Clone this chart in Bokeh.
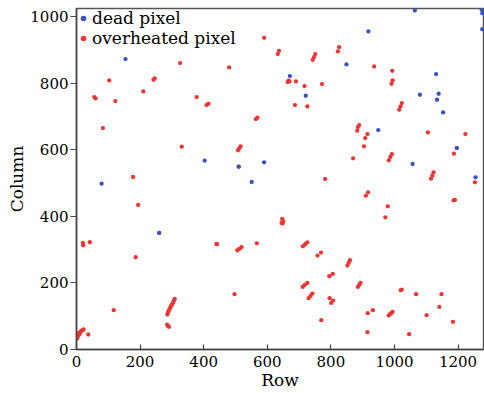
from bokeh.plotting import figure
from bokeh.models import ColumnDataSource, Range1d, Legend, LegendItem, FixedTicker
from bokeh.embed import file_html
from bokeh.resources import INLINE

# dead pixels (row, column)
dead_row = [154, 403, 510, 590, 551, 79, 260, 671, 721, 849, 918, 1064, 1274, 1276, 1276,
            1131, 1080, 1139, 1134, 1153, 949, 1196, 1057, 1255]
dead_col = [872, 567, 549, 562, 503, 498, 350, 821, 762, 856, 955, 1018, 1020, 1010, 962,
            827, 765, 768, 750, 712, 659, 605, 557, 517]

# overheated pixels (row, column)
hot_row = [326, 103, 242, 246, 56, 60, 210, 122, 378, 409, 415, 83, 331, 178,
           590, 637, 633, 751, 747, 743, 826, 822, 480, 664, 667, 670, 690, 717, 772,
           687, 726, 569, 564, 516, 512, 508, 510, 782,
           936, 993, 994, 991, 1023, 1019, 1015, 889, 885, 883, 915, 908, 1105, 1223,
           904, 1196, 1187, 870, 992, 987, 982, 1123, 1119, 1115, 1253,
           194, 260, 20, 21, 42, 186, 117,
           286, 288, 291, 294, 297, 300, 303, 306, 309, 285, 288, 291,
           3, 6, 9, 12, 15, 19, 22, 8, 2, 37,
           645, 647, 650, 648, 442, 440, 519, 512, 506, 567, 726, 719, 712, 758, 769,
           860, 856, 852, 795, 806, 726, 718, 711, 742, 736, 730, 796, 801, 807, 497, 770,
           917, 910, 1186, 1190, 979, 971, 893, 889, 885, 1020, 1023, 1068, 1148, 1141,
           916, 932, 994, 990, 986, 982, 1101, 1184, 915, 1046]
hot_col = [860, 808, 810, 814, 758, 754, 775, 746, 758, 734, 738, 665, 609, 518,
           936, 897, 887, 887, 878, 870, 908, 895, 847, 803, 807, 805, 805, 791, 797,
           734, 730, 696, 692, 610, 604, 598, 549, 512,
           850, 837, 808, 798, 740, 730, 720, 674, 668, 657, 647, 635, 652, 647,
           610, 605, 588, 574, 587, 578, 568, 532, 522, 513, 502,
           434, 350, 320, 313, 322, 277, 118,
           105, 112, 118, 124, 130, 135, 140, 146, 152, 75, 70, 68,
           38, 42, 46, 52, 56, 58, 60, 50, 33, 45,
           380, 392, 385, 378, 316, 317, 307, 302, 298, 319, 322, 316, 310, 282, 291,
           268, 260, 252, 220, 227, 200, 194, 188, 168, 161, 154, 154, 140, 147, 166, 88,
           472, 462, 448, 449, 430, 397, 200, 194, 188, 178, 180, 166, 166, 128,
           109, 118, 113, 109, 106, 102, 103, 83, 52, 46]

x_ticks = [0, 200, 400, 600, 800, 1000, 1200]
y_ticks = [0, 200, 400, 600, 800, 1000]

FONT = "DejaVu Serif"
RED = "#ef3434"
BLUE = "#3a52c4"

p = figure(width=484, height=393, output_backend="svg", toolbar_location=None,
           x_range=Range1d(0, 1280), y_range=Range1d(0, 1024),
           min_border_left=76, min_border_right=1, min_border_top=8, min_border_bottom=44)

p.background_fill_color = "white"
p.border_fill_color = "white"
p.xgrid.grid_line_color = None
p.ygrid.grid_line_color = None
p.outline_line_color = "#555555"
p.outline_line_width = 1.5

hot_src = ColumnDataSource(dict(x=hot_row, y=hot_col))
dead_src = ColumnDataSource(dict(x=dead_row, y=dead_col))
r_hot = p.scatter("x", "y", source=hot_src, size=4.3, color=RED, line_width=0)
r_dead = p.scatter("x", "y", source=dead_src, size=4.3, color=BLUE, line_width=0)

p.xaxis.ticker = FixedTicker(ticks=x_ticks)
p.yaxis.ticker = FixedTicker(ticks=y_ticks)
p.xaxis.minor_tick_line_color = None
p.yaxis.minor_tick_line_color = None
p.xaxis.major_tick_in = 5
p.xaxis.major_tick_out = 0
p.yaxis.major_tick_in = 0
p.yaxis.major_tick_out = 6
for ax in (p.xaxis, p.yaxis):
    ax.axis_line_color = "#444444"
    ax.axis_line_width = 1.5
    ax.major_tick_line_color = "#444444"
    ax.major_tick_line_width = 1.2
    ax.major_label_text_font = FONT
    ax.major_label_text_font_size = "15px"
    ax.major_label_text_color = "black"
    ax.axis_label_text_font = FONT
    ax.axis_label_text_font_size = "17px"
    ax.axis_label_text_font_style = "normal"
    ax.axis_label_text_color = "black"
p.xaxis.axis_label = "Row"
p.yaxis.axis_label = "Column"
p.xaxis.major_label_standoff = 6
p.xaxis.axis_label_standoff = 0
p.yaxis.major_label_standoff = 2
p.yaxis.axis_label_standoff = 0

legend = Legend(items=[LegendItem(label="dead pixel", renderers=[r_dead]),
                       LegendItem(label="overheated pixel", renderers=[r_hot])],
                location="top_left")
legend.margin = 0
legend.padding = 3
legend.spacing = 0
legend.glyph_width = 14
legend.glyph_height = 20
legend.label_height = 20
legend.label_standoff = 2
legend.label_text_font = FONT
legend.label_text_font_size = "17px"
legend.label_text_color = "black"
legend.border_line_color = None
legend.background_fill_alpha = 0
p.add_layout(legend)

open("out.html", "w").write(file_html(p, INLINE))
